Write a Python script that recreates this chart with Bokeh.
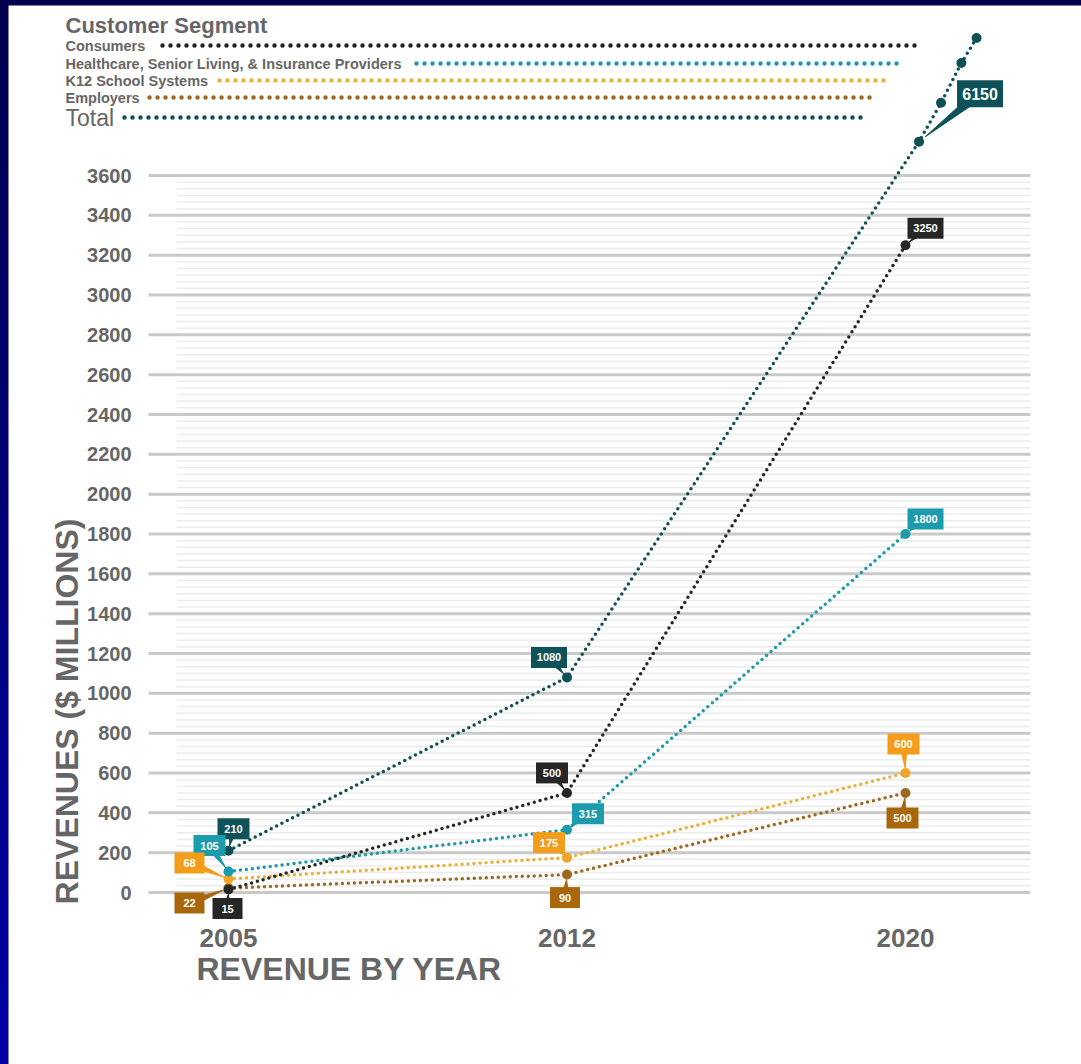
import math
from bokeh.plotting import figure
from bokeh.models import Range1d
from bokeh.core.properties import value
from bokeh.embed import file_html
from bokeh.resources import INLINE

# ---------------- data ----------------
years = ["2005", "2012", "2020"]
consumers = [15, 500, 3250]
healthcare = [105, 315, 1800]
k12 = [68, 175, 600]
employers = [22, 90, 500]
total = [210, 1080, 6150]
# off-scale continuation of the Total line as drawn above the 3600 grid
total_offscale_x = [2.04, 2.105, 2.165, 2.21]
total_offscale_y = [3770, 3965, 4165, 4290]
y_ticks = [0, 200, 400, 600, 800, 1000, 1200, 1400, 1600, 1800,
           2000, 2200, 2400, 2600, 2800, 3000, 3200, 3400, 3600]
segment_names = ["Consumers", "Healthcare, Senior Living, & Insurance Providers",
                 "K12 School Systems", "Employers", "Total"]

# ---------------- style ----------------
FONT = "Liberation Sans"
GRAY = "#666666"
line_colors = {"Consumers": "#262626", "Healthcare": "#1e9aa6", "K12": "#e9b23a",
               "Employers": "#9b6a1f", "Total": "#0f4f55"}
box_colors = {"Consumers": "#262626", "Healthcare": "#1b9bab", "K12": "#f49d1a",
              "Employers": "#a9670c", "Total": "#0c5258"}
series = {"Consumers": consumers, "Healthcare": healthcare, "K12": k12,
          "Employers": employers, "Total": total}

W, H = 1073, 1059          # figure size
LEFT, TOP = 8, 5           # page offset of the figure
PX0, DXC = 228.0, 338.5    # page x of first year, px per category
PY0, KY = 892.0, 717.0 / 3600.0  # page y of value 0, px per unit


def X(px):
    return (px - PX0) / DXC


def Y(py):
    return (PY0 - py) / KY


def px_of(x):
    return PX0 + x * DXC


def py_of(v):
    return PY0 - v * KY


p = figure(width=W, height=H, x_range=Range1d(X(LEFT), X(LEFT + W)),
           y_range=Range1d(Y(TOP + H), Y(TOP)), output_backend="svg",
           toolbar_location=None, x_axis_location=None, y_axis_location=None,
           min_border=0)
p.outline_line_color = None
p.background_fill_color = "white"
p.border_fill_color = "white"
p.xgrid.visible = False
p.ygrid.visible = False

# ---------------- grid ----------------
minor = []
for t in y_ticks[:-1]:
    for k in range(1, 6):
        minor.append(t + k * 200.0 / 6.0)
p.segment(x0=[X(176)] * len(minor), y0=minor, x1=[X(1030)] * len(minor), y1=minor,
          line_color="#ececec", line_width=1.5)
p.segment(x0=[X(148)] * len(y_ticks), y0=y_ticks, x1=[X(1030)] * len(y_ticks), y1=y_ticks,
          line_color="#c9c9c9", line_width=3)

# tick labels
p.text(x=[X(131)] * len(y_ticks), y=y_ticks, text=[str(t) for t in y_ticks],
       text_align="right", text_baseline="middle", text_font=value(FONT),
       text_font_style="bold", text_font_size="20px", text_color=GRAY)
p.text(x=[0, 1, 2], y=[Y(937)] * 3, text=years, text_align="center",
       text_baseline="middle", text_font=value(FONT), text_font_style="bold",
       text_font_size="26px", text_color=GRAY)

# axis titles
p.text(x=[X(196)], y=[Y(968)], text=["REVENUE BY YEAR"], text_align="left",
       text_baseline="middle", text_font=value(FONT), text_font_style="bold",
       text_font_size="32px", text_color=GRAY)
p.text(x=[X(66)], y=[Y(711)], text=["REVENUES ($ MILLIONS)"], angle=math.pi / 2,
       text_align="center", text_baseline="middle", text_font=value(FONT),
       text_font_style="bold", text_font_size="32px", text_color=GRAY)

# ---------------- legend ----------------
p.text(x=[X(65)], y=[Y(25)], text=["Customer Segment"], text_align="left",
       text_baseline="middle", text_font=value(FONT), text_font_style="bold",
       text_font_size="22px", text_color=GRAY)
leg_keys = ["Consumers", "Healthcare", "K12", "Employers", "Total"]
leg_y = [45, 63, 80, 97, 117]
leg_start = [162, 416, 219, 149, 124]
leg_end = [918, 900, 888, 876, 862]
leg_size = ["14.5px", "14.5px", "14.5px", "14.5px", "23px"]
leg_style = ["bold", "bold", "bold", "bold", "normal"]
leg_line = {"Consumers": "#222222", "Healthcare": "#1e9aa6", "K12": "#e6b43c",
            "Employers": "#9a6b22", "Total": "#0f4f55"}
for name, key, yy, xs, xe, fs, st in zip(segment_names, leg_keys, leg_y, leg_start,
                                         leg_end, leg_size, leg_style):
    p.text(x=[X(65)], y=[Y(yy)], text=[name], text_align="left", text_baseline="middle",
           text_font=value(FONT), text_font_style=st, text_font_size=fs, text_color=GRAY)
    p.segment(x0=[X(xs)], y0=[Y(yy)], x1=[X(xe)], y1=[Y(yy)], line_color=leg_line[key],
              line_width=4.5, line_dash="0 8", line_cap="round")

# ---------------- series ----------------
xs_idx = [0, 1, 2]
for key in ["Employers", "K12", "Healthcare", "Consumers"]:
    p.line(x=xs_idx, y=series[key], line_color=line_colors[key], line_width=3.5,
           line_dash="0 6", line_cap="round")
tot_x = [0, 1] + total_offscale_x
tot_y = total[:2] + total_offscale_y
p.line(x=tot_x, y=tot_y, line_color=line_colors["Total"], line_width=3.5,
       line_dash="0 6", line_cap="round")

marker_colors = {"Consumers": "#262626", "Healthcare": "#1b9bab", "K12": "#f0a42a",
                 "Employers": "#9b6a1f", "Total": "#0f4f55"}
for key in ["Employers", "K12", "Healthcare", "Consumers"]:
    p.scatter(x=xs_idx, y=series[key], size=10, fill_color=marker_colors[key],
              line_color=None)
p.scatter(x=tot_x, y=tot_y, size=10, fill_color=marker_colors["Total"], line_color=None)

# ---------------- callouts ----------------
callouts = [
    ("Total", 0, 5, -22),
    ("Healthcare", 0, -19, -26),
    ("K12", 0, -39, -16),
    ("Employers", 0, -39, 15),
    ("Consumers", 0, -1, 19),
    ("Total", 1, -18, -20),
    ("Consumers", 1, -15, -20),
    ("Healthcare", 1, 21, -16),
    ("K12", 1, -18, -15),
    ("Employers", 1, -2, 23),
    ("Consumers", 2, 20, -17),
    ("Healthcare", 2, 20, -15),
    ("K12", 2, -2, -29),
    ("Employers", 2, -3, 25),
    ("Total", 2, 61, -48),
]
for key, i, dx, dy in callouts:
    v = series[key][i]
    if key == "Total" and i == 2:
        mx, my = px_of(total_offscale_x[0]), py_of(total_offscale_y[0])
        bw, bh, fs, hw, gap = 46, 27, "16px", 5, 8
    else:
        mx, my = px_of(i), py_of(v)
        txt_len = len(str(v))
        bw = {2: 30, 3: 32, 4: 36}.get(txt_len, 32)
        bh, fs, hw, gap = 21, "11px", 4, 5
    bx, by = mx + dx, my + dy
    # tail wedge from box centre towards the point
    vx, vy = mx - bx, my - by
    dist = math.hypot(vx, vy)
    ux, uy = vx / dist, vy / dist
    ax, ay = mx - ux * gap, my - uy * gap
    nx, ny = -uy, ux
    tri_x = [X(bx + nx * hw), X(bx - nx * hw), X(ax)]
    tri_y = [Y(by + ny * hw), Y(by - ny * hw), Y(ay)]
    col = box_colors[key]
    p.patches(xs=[tri_x], ys=[tri_y], fill_color=col, line_color=col, line_width=1)
    p.rect(x=[X(bx)], y=[Y(by)], width=bw, height=bh, width_units="screen",
           height_units="screen", fill_color=col, line_color=None)
    p.text(x=[X(bx)], y=[Y(by)], text=[str(v)], text_align="center",
           text_baseline="middle", text_font=value(FONT), text_font_style="bold",
           text_font_size=fs, text_color="white")

page_style = ("{% block postamble %}<style>"
              "html, body {margin:0 !important; padding:0; overflow:hidden;}"
              "body {padding:5px 0 0 8px !important; box-sizing:border-box;"
              " min-height:1064px; background:linear-gradient(to bottom,#00004e,#0000a6);}"
              "</style>{% endblock %}")

open("out.html", "w").write(file_html(p, INLINE, template=page_style))
